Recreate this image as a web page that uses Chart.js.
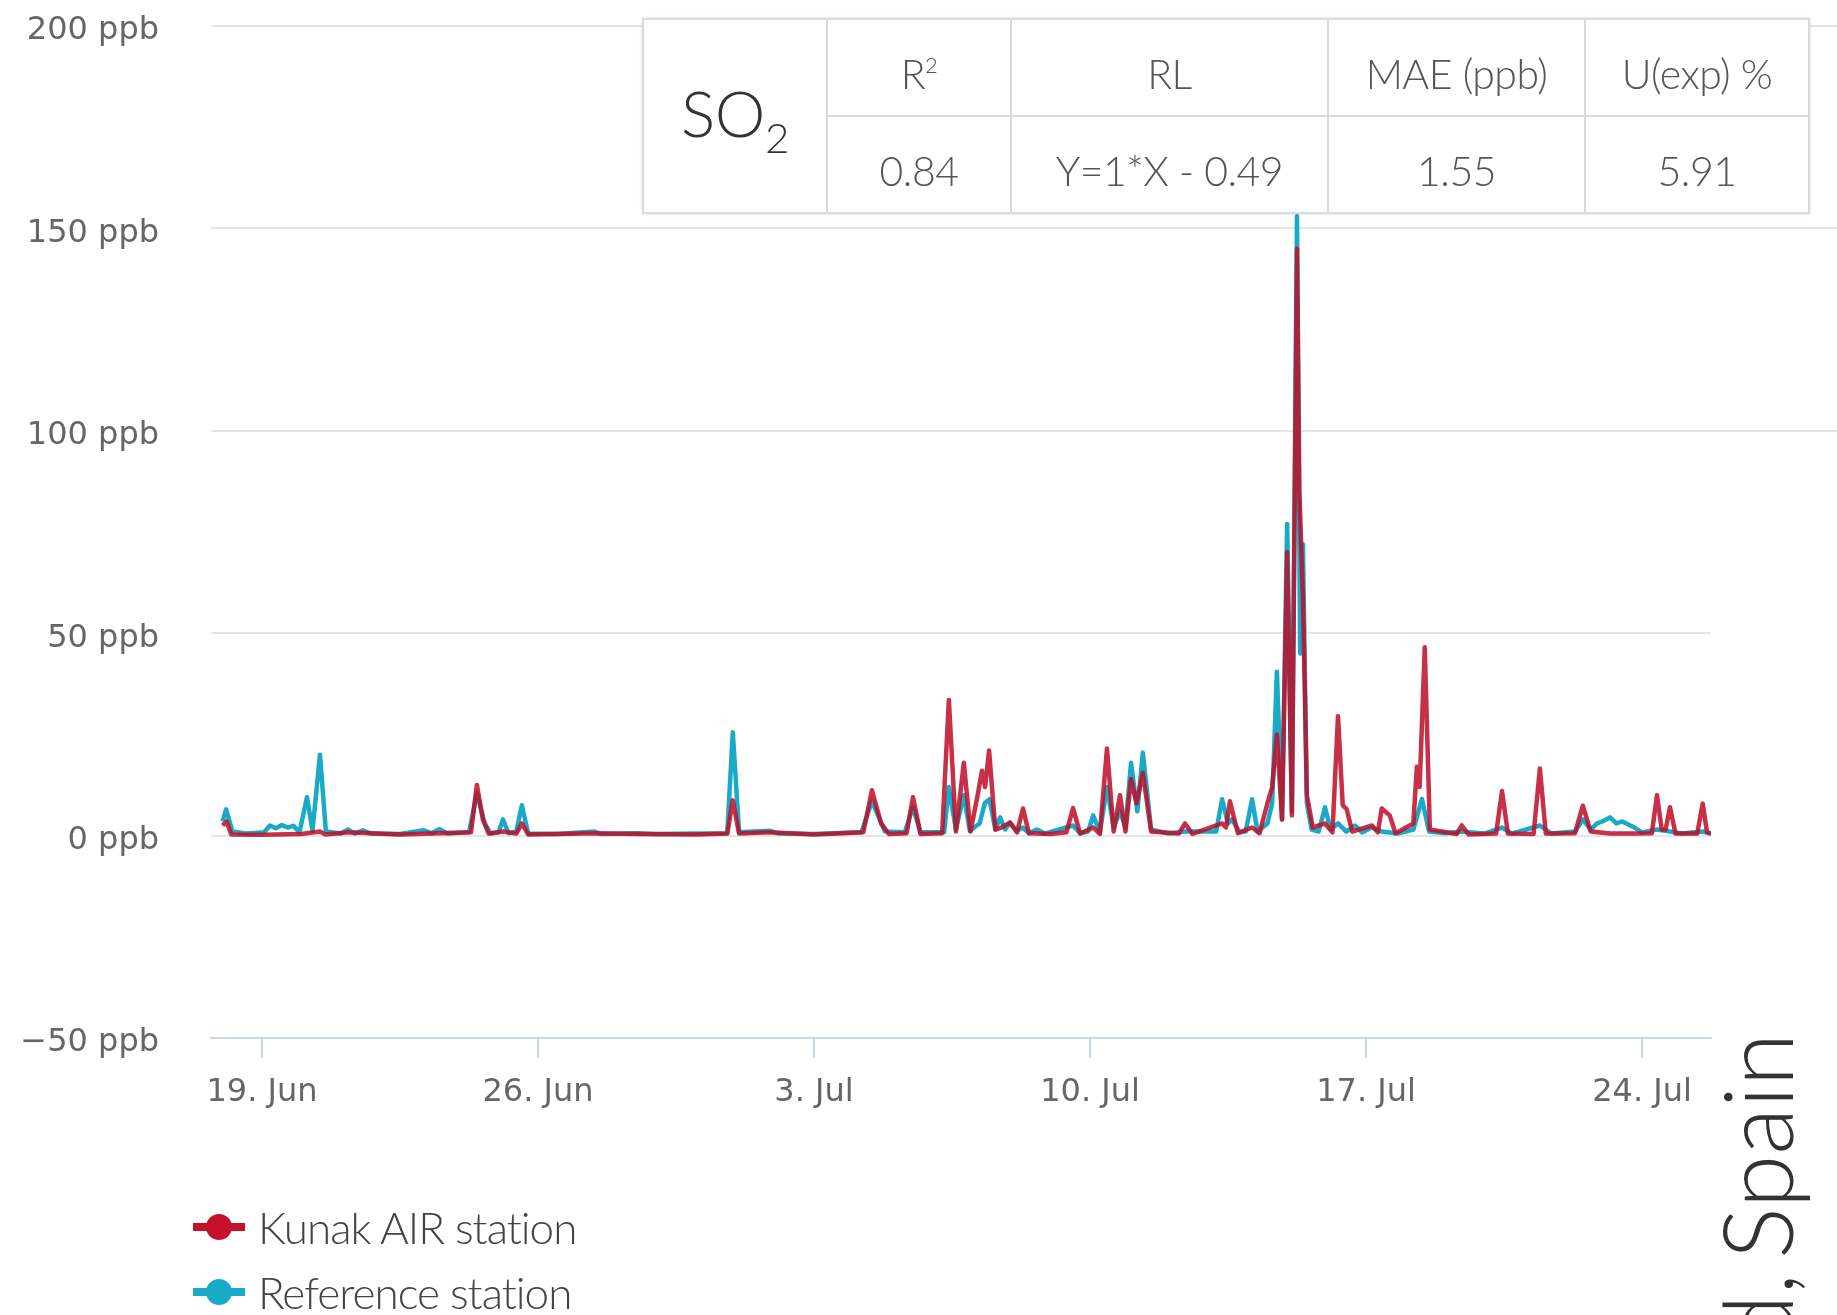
<!DOCTYPE html>
<html>
<head>
<meta charset="utf-8">
<script src="https://cdn.jsdelivr.net/npm/chart.js@4/dist/chart.umd.min.js"></script>
<style>
  html, body { margin: 0; padding: 0; background: #fff; }
  #wrap { position: relative; width: 1837px; height: 1315px; overflow: hidden; background: #fff; }
  #c { position: absolute; left: 0; top: 0; }
  #stats {
    position: absolute; left: 642px; top: 18px; width: 1166px; height: 196px;
    border-collapse: collapse; background: #fff; table-layout: fixed;
    font-family: Lato, "Open Sans", sans-serif; font-weight: 300; color: #555;
    font-size: 41px; text-align: center;
    box-shadow: 0 0 3px rgba(0,0,0,0.15);
  }
  #stats td { border: 2px solid #dadada; padding: 12px 0 0 0; white-space: nowrap; letter-spacing: -0.5px; }
  #stats .gas { font-size: 64px; color: #333; padding-top: 4px; }
  #stats .gas sub { font-size: 42px; vertical-align: -16px; }
  #stats sup { font-size: 22px; vertical-align: 16px; }
  #legend { position: absolute; left: 193px; top: 1194px; font-family: Lato, "Open Sans", sans-serif; font-weight: 300; }
  .item { display: flex; align-items: center; height: 65px; }
  .sym { position: relative; width: 52px; height: 26px; }
  .sym .ln { position: absolute; left: 0; top: 9px; width: 52px; height: 8px; }
  .sym .dot { position: absolute; left: 13px; top: 0; width: 26px; height: 26px; border-radius: 50%; }
  .txt { margin-left: 13px; font-size: 44px; color: #444; letter-spacing: -1px; }
  #site {
    position: absolute; left: 1707px; top: 1348px; white-space: nowrap; word-spacing: -12px;
    font-family: Lato, "Open Sans", sans-serif; font-weight: 300; font-size: 97px; line-height: 1;
    color: #333; transform-origin: 0 0; transform: rotate(-90deg);
  }
</style>
</head>
<body>
<div id="wrap">
  <canvas id="c" width="1837" height="1315"></canvas>
  <table id="stats">
    <colgroup><col style="width:184px"><col style="width:184px"><col style="width:317px"><col style="width:257px"><col style="width:224px"></colgroup>
    <tr>
      <td class="gas" rowspan="2">SO<sub>2</sub></td>
      <td>R<sup>2</sup></td><td>RL</td><td>MAE (ppb)</td><td>U(exp) %</td>
    </tr>
    <tr>
      <td>0.84</td><td>Y=1*X - 0.49</td><td>1.55</td><td>5.91</td>
    </tr>
  </table>
  <div id="legend"></div>
  <div id="site">d, Spain</div>
</div>
<script>
// Time axis: days since 18 Jun, 00:00
const xTickDays   = [1, 8, 15, 22, 29, 36];
const xTickLabels = ['19. Jun', '26. Jun', '3. Jul', '10. Jul', '17. Jul', '24. Jul'];
const yTickValues = [-50, 0, 50, 100, 150, 200];

// Kunak AIR station, SO2 (ppb)
const kunakTime = [
  0.00, 0.10, 0.22, 1.00, 2.00, 2.47, 2.60, 3.20, 4.50, 5.50, 6.30, 6.45, 6.60, 6.75,
  7.11, 7.45, 7.59, 7.75, 9.44, 10.50, 12.00, 12.80, 12.94, 13.10, 13.88, 15.00,
  16.25, 16.47, 16.70, 16.90, 17.35, 17.51, 17.70, 18.25, 18.42, 18.60, 18.80, 18.97,
  19.15, 19.26, 19.34, 19.44, 19.60, 19.75, 19.97, 20.15, 20.30, 20.45, 21.00, 21.40,
  21.57, 21.75, 22.08, 22.25, 22.43, 22.60, 22.76, 22.90, 23.04, 23.18, 23.34, 23.55,
  24.25, 24.41, 24.60, 25.35, 25.45, 25.55, 25.75, 26.11, 26.30, 26.50, 26.62, 26.74,
  26.87, 27.00, 27.12, 27.25, 27.31, 27.40, 27.50, 27.65, 27.96, 28.15, 28.29, 28.41,
  28.51, 28.65, 29.15, 29.30, 29.40, 29.60, 29.75, 30.20, 30.29, 30.36, 30.49, 30.62,
  31.30, 31.43, 31.60, 32.30, 32.45, 32.60, 33.25, 33.41, 33.56, 34.30, 34.50, 34.70,
  35.20, 35.80, 36.25, 36.38, 36.50, 36.60, 36.71, 36.85, 37.40, 37.54, 37.65, 37.75
];
const kunakPpb = [
  2.5, 3.5, 0.3, 0.2, 0.4, 1.0, 0.3, 0.8, 0.3, 0.6, 0.8, 12.5, 4.0, 0.5,
  1.0, 0.5, 3.0, 0.3, 0.6, 0.4, 0.3, 0.5, 8.7, 0.5, 0.8, 0.3,
  0.8, 11.2, 3.0, 0.4, 0.6, 9.5, 0.4, 0.6, 33.5, 1.0, 18.0, 1.0,
  10.0, 16.0, 12.0, 21.0, 1.5, 2.0, 3.2, 0.8, 6.7, 0.6, 0.4, 0.8,
  6.8, 0.5, 2.0, 0.4, 21.5, 1.0, 10.0, 1.0, 14.0, 8.0, 15.5, 1.0,
  0.5, 3.0, 0.4, 3.0, 2.0, 8.5, 0.6, 2.0, 0.6, 8.0, 12.0, 25.0,
  4.0, 70.0, 5.0, 145.0, 85.0, 59.0, 10.0, 2.0, 3.0, 0.8, 29.5, 7.5,
  6.5, 1.0, 2.5, 0.8, 6.7, 5.0, 0.6, 3.0, 17.0, 12.0, 46.5, 1.5,
  0.4, 2.5, 0.3, 0.5, 11.0, 0.5, 0.4, 16.6, 0.5, 0.6, 7.4, 1.0,
  0.5, 0.5, 0.6, 10.0, 1.5, 1.5, 7.0, 0.5, 0.5, 7.9, 0.8, 0.5
];

// Reference station, SO2 (ppb)
const refTime = [
  0.00, 0.09, 0.25, 0.60, 1.05, 1.20, 1.35, 1.50, 1.65, 1.80, 1.95, 2.14, 2.28, 2.47,
  2.62, 3.00, 3.18, 3.35, 3.56, 3.75, 4.50, 5.10, 5.30, 5.50, 5.70, 6.25, 6.45, 6.65,
  6.80, 7.00, 7.11, 7.25, 7.45, 7.59, 7.75, 8.50, 9.44, 9.60, 10.50, 11.00, 12.00,
  12.80, 12.94, 13.10, 13.88, 14.10, 15.00, 16.20, 16.47, 16.80, 17.30, 17.51, 17.70,
  18.30, 18.42, 18.60, 18.80, 18.95, 19.20, 19.33, 19.45, 19.60, 19.72, 19.85, 19.97,
  20.14, 20.30, 20.45, 20.65, 20.85, 21.57, 21.75, 21.95, 22.08, 22.25, 22.43, 22.60,
  22.76, 22.90, 23.04, 23.20, 23.34, 23.55, 24.00, 24.41, 25.20, 25.35, 25.50, 25.60,
  25.80, 25.95, 26.11, 26.25, 26.50, 26.62, 26.74, 26.87, 27.00, 27.12, 27.25, 27.33,
  27.40, 27.50, 27.62, 27.80, 27.96, 28.10, 28.29, 28.50, 28.72, 28.90, 29.15, 29.40,
  29.80, 30.20, 30.42, 30.60, 31.00, 31.43, 32.00, 32.45, 32.70, 33.41, 33.70, 34.30,
  34.50, 34.70, 34.86, 35.00, 35.19, 35.35, 35.50, 35.77, 36.00, 36.38, 36.71, 37.00,
  37.54, 37.75
];
const refPpb = [
  3.5, 6.5, 1.0, 0.5, 0.8, 2.5, 1.8, 2.6, 2.0, 2.4, 0.8, 9.5, 1.2, 20.0,
  1.0, 0.5, 1.5, 0.5, 1.3, 0.5, 0.4, 1.3, 0.6, 1.6, 0.5, 0.8, 10.5, 3.0,
  0.5, 0.8, 4.0, 0.6, 1.0, 7.5, 0.5, 0.4, 1.0, 0.4, 0.6, 0.4, 0.5,
  0.6, 25.5, 0.8, 1.2, 0.5, 0.4, 0.8, 8.5, 1.0, 0.8, 7.0, 0.8,
  0.8, 12.0, 1.5, 10.0, 1.2, 3.0, 8.0, 9.0, 1.5, 4.5, 1.5, 3.2,
  1.2, 2.0, 0.6, 1.5, 0.5, 2.5, 0.6, 1.0, 5.0, 0.8, 12.0, 2.0,
  6.0, 2.0, 18.0, 6.0, 20.5, 1.5, 0.5, 1.0, 1.0, 9.0, 3.0, 4.0,
  0.8, 1.0, 9.0, 1.0, 3.0, 8.0, 40.5, 4.0, 77.0, 6.0, 153.0, 45.0,
  72.0, 8.0, 1.5, 1.0, 7.0, 1.5, 3.0, 1.0, 2.5, 0.8, 2.0, 1.0,
  0.5, 1.5, 9.0, 1.0, 0.6, 1.0, 0.5, 2.0, 0.5, 2.5, 0.5, 1.0,
  4.0, 1.5, 3.0, 3.5, 4.5, 3.0, 3.5, 2.2, 0.8, 1.5, 1.0, 0.5,
  1.0, 0.5
];

const toPoints = (t, v) => t.map((x, i) => ({ x, y: v[i] }));

const KUNAK_RED = 'rgba(190, 14, 40, 0.86)';
const REF_CYAN = 'rgb(24, 170, 199)';
const GRID = '#e6e6e6';
const AXIS = '#ccd6eb';

// Extends the upper grid lines across the right margin of the page
const gridTail = {
  id: 'gridTail',
  beforeDatasetsDraw(chart) {
    const { ctx, chartArea, scales } = chart;
    ctx.save();
    ctx.strokeStyle = GRID;
    ctx.lineWidth = 2;
    [100, 150, 200].forEach(v => {
      const y = Math.round(scales.y.getPixelForValue(v));
      ctx.beginPath();
      ctx.moveTo(chartArea.right, y);
      ctx.lineTo(chart.width, y);
      ctx.stroke();
    });
    ctx.restore();
  }
};

const chart = new Chart(document.getElementById('c'), {
  type: 'line',
  data: {
    datasets: [
      {
        label: 'Kunak AIR station',
        data: toPoints(kunakTime, kunakPpb),
        borderColor: KUNAK_RED,
        backgroundColor: 'rgb(196, 16, 44)',
        borderWidth: 4.5,
        borderJoinStyle: 'round',
        pointRadius: 0,
        tension: 0
      },
      {
        label: 'Reference station',
        data: toPoints(refTime, refPpb),
        borderColor: REF_CYAN,
        backgroundColor: REF_CYAN,
        borderWidth: 4.5,
        borderJoinStyle: 'round',
        pointRadius: 0,
        tension: 0
      }
    ]
  },
  options: {
    responsive: false,
    animation: false,
    events: [],
    layout: { padding: { top: 26, right: 126, left: 0, bottom: 0 } },
    plugins: { legend: { display: false }, tooltip: { enabled: false } },
    scales: {
      x: {
        type: 'linear',
        min: -0.294,
        max: 37.75,
        afterBuildTicks: s => { s.ticks = xTickDays.map(v => ({ value: v })); },
        afterFit: s => { s.height = 277; },
        grid: { drawOnChartArea: false, drawTicks: true, tickLength: 20, color: AXIS, lineWidth: 2 },
        border: { display: true, color: AXIS, width: 2 },
        ticks: {
          autoSkip: false, maxRotation: 0, padding: 15,
          font: { family: 'DejaVu Sans', size: 32 }, color: '#666',
          callback: (v, i) => xTickLabels[i]
        }
      },
      y: {
        min: -50,
        max: 200,
        afterBuildTicks: s => { s.ticks = yTickValues.map(v => ({ value: v })); },
        afterFit: s => { s.width = 211; },
        grid: {
          drawTicks: true, tickLength: 50, tickColor: 'rgba(0,0,0,0)', lineWidth: 2,
          color: c => (c.tick && c.tick.value === -50 ? AXIS : GRID)
        },
        border: { display: false },
        ticks: {
          padding: 2, labelOffset: 5,
          font: { family: 'DejaVu Sans', size: 32 }, color: '#666',
          callback: v => String(v).replace('-', '\u2212') + ' ppb'
        }
      }
    }
  },
  plugins: [gridTail]
});

// Legend built from the datasets: line-and-marker symbol plus label
const legend = document.getElementById('legend');
chart.data.datasets.forEach(ds => {
  const item = document.createElement('div');
  item.className = 'item';
  item.innerHTML = '<span class="sym"><span class="ln"></span><span class="dot"></span></span><span class="txt"></span>';
  item.querySelector('.ln').style.background = ds.backgroundColor;
  item.querySelector('.dot').style.background = ds.backgroundColor;
  item.querySelector('.txt').textContent = ds.label;
  legend.appendChild(item);
});
</script>
</body>
</html>
